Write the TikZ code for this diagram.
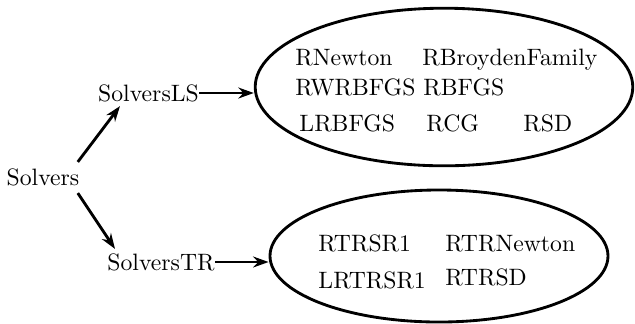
\documentclass[tikz,border=0pt]{standalone}
\usetikzlibrary{arrows.meta,shapes.geometric,calc}
\begin{document}
\begin{tikzpicture}[x=0.4219pt,y=-0.4219pt,
  lbl/.style={inner sep=0pt},
  item/.style={inner sep=0pt,anchor=base west},
  group/.style={ellipse,draw,line width=1.2pt,inner sep=0pt},
  link/.style={line width=1.2pt,-{Stealth[length=6.5pt,width=4.6pt]}}]
\useasboundingbox (0,0) rectangle (635,323);

% package tree
\node[lbl] (s)  at (43,177)  {Solvers};
\node[lbl] (ls) at (148.5,93) {SolversLS};
\node[lbl] (tr) at (161,262) {SolversTR};

% line-search solvers
\node[group,minimum width=159.3pt,minimum height=66.5pt] (e1) at (444,87) {};
\node[item] (a1) at (295,65)  {RNewton};
\node[item] (a2) at (422,65)  {RBroydenFamily};
\node[item] (a3) at (295,95)  {RWRBFGS};
\node[item] (a4) at (423,95)  {RBFGS};
\node[item] (a5) at (299,131) {LRBFGS};
\node[item] (a6) at (426,131) {RCG};
\node[item] (a7) at (523,131) {RSD};

% trust-region solvers
\node[group,minimum width=142.6pt,minimum height=55.7pt] (e2) at (439,256) {};
\node[item] (b1) at (318,251) {RTRSR1};
\node[item] (b2) at (445,251) {RTRNewton};
\node[item] (b3) at (318,288) {LRTRSR1};
\node[item] (b4) at (445,285) {RTRSD};

% connectors
\draw[link] ($(s.north east)+(-2,-6)$) -- ($(ls.south)+(-28.5,4)$);
\draw[link] ($(s.south east)+(-2,7)$) -- ($(tr.north)+(-46,-4)$);
\draw[link] (ls.east) -- (ls.east -| e1.west);
\draw[link] (tr.east) -- (tr.east -| e2.west);
\end{tikzpicture}
\end{document}
